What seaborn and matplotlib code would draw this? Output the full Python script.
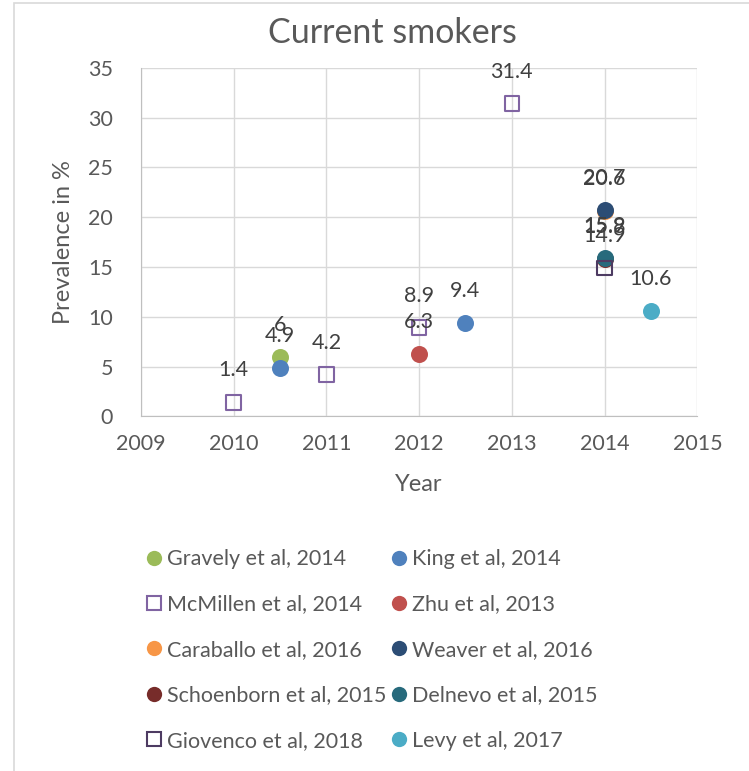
import matplotlib
matplotlib.use("Agg")
import matplotlib.pyplot as plt
from matplotlib.lines import Line2D
from matplotlib.patches import Rectangle
import seaborn as sns

# Dados (ano, prevalência) por estudo
estudos = ["Gravely et al, 2014", "King et al, 2014", "McMillen et al, 2014", "Zhu et al, 2013",
           "Caraballo et al, 2016", "Weaver et al, 2016", "Schoenborn et al, 2015", "Delnevo et al, 2015",
           "Giovenco et al, 2018", "Levy et al, 2017"]
anos = [[2010.5], [2010.5, 2012.5], [2010, 2011, 2012, 2013], [2012],
        [2014], [2014], [2014], [2014],
        [2014], [2014.5]]
valores = [[6], [4.9, 9.4], [1.4, 4.2, 8.9, 31.4], [6.3],
           [20.6], [20.7], [15.8], [15.9],
           [14.9], [10.6]]
cores = ["#9BBB59", "#4F81BD", "#8064A2", "#C0504D", "#F79646",
         "#2C4D75", "#772C2A", "#276A7C", "#4D3B62", "#4BACC6"]
abertos = [False, False, True, False, False, False, False, False, True, False]

sns.set_style("white")
plt.rcParams["font.family"] = ["Lato", "DejaVu Sans"]
cinza = "#595959"

fig = plt.figure(figsize=(7.49, 7.71), dpi=100)
ax = fig.add_axes([0.188, 0.460, 0.743, 0.452])

for est, xs, ys, cor, ab in zip(estudos, anos, valores, cores, abertos):
    if ab:
        sns.scatterplot(x=xs, y=ys, ax=ax, marker="s", s=110, color=cor, linewidth=1.5, zorder=3)
        ax.collections[-1].set_facecolor("none")
        ax.collections[-1].set_edgecolor(cor)
    else:
        sns.scatterplot(x=xs, y=ys, ax=ax, marker="o", s=150, color=cor, linewidth=0, zorder=3)
    for x, y in zip(xs, ys):
        ax.annotate(f"{y:g}", (x, y), xytext=(0, 23), textcoords="offset points",
                    ha="center", va="center", fontsize=15.5, color="#404040")

ax.set_xlim(2009, 2015)
ax.set_ylim(0, 35)
ax.set_xticks(range(2009, 2016))
ax.set_yticks(range(0, 36, 5))
ax.grid(True, color="#D9D9D9", linewidth=1)
ax.set_axisbelow(True)
for s in ["top", "right"]:
    ax.spines[s].set_visible(False)
for s in ["left", "bottom"]:
    ax.spines[s].set_color("#BFBFBF")
ax.tick_params(labelsize=15.5, colors=cinza, length=0)
ax.tick_params(axis="x", pad=13)
ax.tick_params(axis="y", pad=20)
ax.set_xlabel("Year", fontsize=17, color=cinza, labelpad=14)
ax.set_ylabel("Prevalence in %", fontsize=17, color=cinza, labelpad=10)
fig.text(392 / 749, 1 - 33 / 771, "Current smokers", fontsize=24.5, color=cinza,
         ha="center", va="center")

# Legenda em duas colunas (ordem por linha)
handles = []
for est, cor, ab in zip(estudos, cores, abertos):
    if ab:
        h = Line2D([], [], marker="s", linestyle="", markersize=10, markerfacecolor="none",
                   markeredgecolor=cor, markeredgewidth=1.5, label=est)
    else:
        h = Line2D([], [], marker="o", linestyle="", markersize=11, markerfacecolor=cor,
                   markeredgewidth=0, label=est)
    handles.append(h)
ordem = handles[0::2] + handles[1::2]
fig.legend(handles=ordem, ncol=2, loc="upper left", bbox_to_anchor=(0.165, 0.313),
           frameon=False, fontsize=15.5, labelspacing=1.18, handletextpad=0.1,
           handlelength=1.0, columnspacing=0.1, labelcolor=cinza)

fig.patches.append(Rectangle((14 / 749, -0.01), 1.0, 1 - 3 / 771 + 0.01, transform=fig.transFigure,
                             fill=False, edgecolor="#D9D9D9", linewidth=1.2))

fig.savefig("out.png", dpi=100)
